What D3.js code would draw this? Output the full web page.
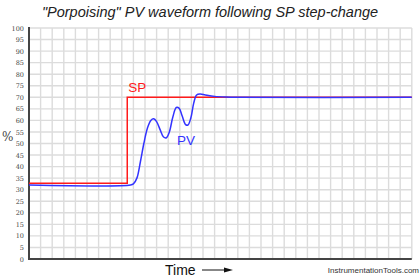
<!DOCTYPE html>
<html>
<head>
<meta charset="utf-8">
<script src="https://cdn.jsdelivr.net/npm/d3@7"></script>
<style>
  body { margin: 0; background: #fff; }
  svg { display: block; }
</style>
</head>
<body>
<div id="chart"></div>
<script>
// data
var yTicks = [0, 5, 10, 15, 20, 25, 30, 35, 40, 45, 50, 55, 60, 65, 70, 75, 80, 85, 90, 95, 100];
var timeCells = 33;

// SP: step change
var spTime = [0, 8.47, 8.47, 33];
var spValue = [32.8, 32.8, 70, 70];

// PV: porpoising response
var pvTime = [0, 8.75, 9.0, 9.3, 9.6, 9.9, 10.2, 10.5, 10.75, 11.0, 11.3, 11.6, 11.85, 12.1, 12.4, 12.7, 12.95, 13.2, 13.5, 13.7, 13.95, 14.2, 14.45, 14.75, 15.2, 16.0, 17.0, 18.0, 33];
var pvValue = [32, 32, 32.5, 35, 42, 50, 56.5, 60, 60.7, 59.5, 56, 52.8, 52.5, 55, 61.5, 65.6, 65.2, 62, 58.2, 58, 61, 67.5, 71, 71.4, 71, 70.4, 70.1, 70, 70];

var width = 420;
var height = 280;
var margin = { top: 28, right: 8.2, bottom: 21, left: 29 };

var svg = d3.select('#chart').append('svg')
  .attr('width', width)
  .attr('height', height);

var x = d3.scaleLinear().domain([0, timeCells]).range([margin.left, width - margin.right]);
var y = d3.scaleLinear().domain([0, 100]).range([height - margin.bottom, margin.top]);

// グリッド
var grid = svg.append('g');
grid.selectAll('.vgrid').data(d3.range(1, timeCells + 1))
  .enter().append('line')
  .attr('x1', function(d) { return x(d); })
  .attr('x2', function(d) { return x(d); })
  .attr('y1', y(0))
  .attr('y2', y(100))
  .attr('stroke', '#dcdcdc')
  .attr('stroke-width', 1.4);
grid.selectAll('.hgrid').data(yTicks.slice(1))
  .enter().append('line')
  .attr('x1', x(0))
  .attr('x2', x(timeCells))
  .attr('y1', function(d) { return y(d); })
  .attr('y2', function(d) { return y(d); })
  .attr('stroke', '#dcdcdc')
  .attr('stroke-width', 1.4);

// y軸
var yAxis = svg.append('g')
  .attr('transform', 'translate(' + margin.left + ',0)')
  .call(d3.axisLeft(y).tickValues(yTicks).tickSize(0).tickPadding(5));
yAxis.select('.domain').remove();
yAxis.selectAll('text')
  .attr('font-family', 'DejaVu Serif, serif')
  .attr('font-size', 6.5)
  .attr('fill', '#444');

// axis lines
svg.append('line')
  .attr('x1', x(0)).attr('x2', x(0))
  .attr('y1', y(100) - 1).attr('y2', y(0) + 1)
  .attr('stroke', '#444').attr('stroke-width', 2);
svg.append('line')
  .attr('x1', x(0) - 1).attr('x2', x(timeCells))
  .attr('y1', y(0)).attr('y2', y(0))
  .attr('stroke', '#444').attr('stroke-width', 2);

// SP
var spData = spTime.map(function(t, i) { return [t, spValue[i]]; });
svg.append('path')
  .datum(spData)
  .attr('fill', 'none')
  .attr('stroke', '#ff1a1a')
  .attr('stroke-width', 1.5)
  .attr('d', d3.line()
    .x(function(d) { return x(d[0]); })
    .y(function(d) { return y(d[1]); }));

// PV
var pvData = pvTime.map(function(t, i) { return [t, pvValue[i]]; });
svg.append('path')
  .datum(pvData)
  .attr('fill', 'none')
  .attr('stroke', '#3333ff')
  .attr('stroke-width', 1.5)
  .attr('d', d3.line()
    .curve(d3.curveCatmullRom.alpha(0.5))
    .x(function(d) { return x(d[0]); })
    .y(function(d) { return y(d[1]); }));

// labels
svg.append('text')
  .attr('x', x(8.55)).attr('y', y(72.5))
  .attr('font-family', 'Liberation Sans, Arial, sans-serif')
  .attr('font-size', 13.5)
  .attr('fill', '#ff1a1a')
  .text('SP');
svg.append('text')
  .attr('x', x(12.75)).attr('y', y(49.4))
  .attr('font-family', 'Liberation Sans, Arial, sans-serif')
  .attr('font-size', 13.5)
  .attr('fill', '#3333ff')
  .text('PV');

svg.append('text')
  .attr('x', width / 2).attr('y', 17)
  .attr('text-anchor', 'middle')
  .attr('font-family', 'Liberation Sans, Arial, sans-serif')
  .attr('font-style', 'italic')
  .attr('font-size', 14.5)
  .attr('fill', '#222')
  .text('"Porpoising" PV waveform following SP step-change');

svg.append('text')
  .attr('x', 2).attr('y', 141)
  .attr('font-family', 'DejaVu Serif, serif')
  .attr('font-size', 12)
  .attr('fill', '#444')
  .text('%');

svg.append('text')
  .attr('x', 165).attr('y', 275)
  .attr('font-family', 'Liberation Sans, Arial, sans-serif')
  .attr('font-size', 14)
  .attr('fill', '#111')
  .text('Time');

// arrow
svg.append('line')
  .attr('x1', 202).attr('x2', 226)
  .attr('y1', 270).attr('y2', 270)
  .attr('stroke', '#111').attr('stroke-width', 1);
svg.append('path')
  .attr('d', 'M224,267.5 L233,270 L224,272.5 Z')
  .attr('fill', '#111');

svg.append('text')
  .attr('x', 419).attr('y', 273)
  .attr('text-anchor', 'end')
  .attr('font-family', 'Liberation Sans, Arial, sans-serif')
  .attr('font-size', 8)
  .attr('fill', '#333')
  .text('InstrumentationTools.com');
</script>
</body>
</html>
